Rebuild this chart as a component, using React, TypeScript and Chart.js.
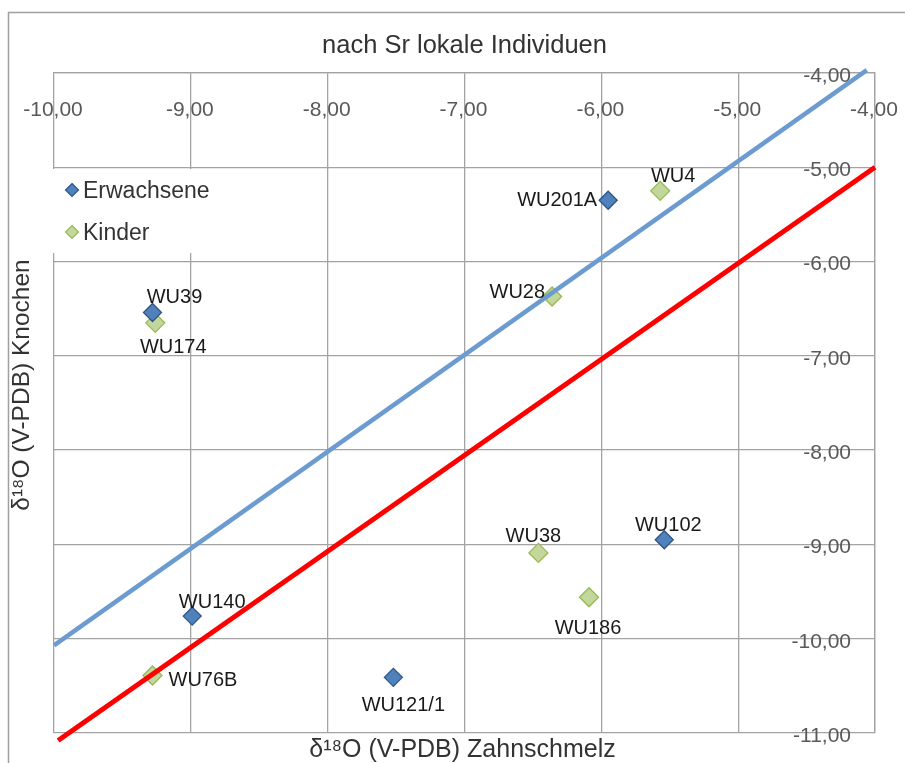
import React, { useEffect, useRef } from "react";
import { Chart, registerables } from "chart.js";

Chart.register(...registerables);

const TITLE = "nach Sr lokale Individuen";
const X_TITLE = "δ¹⁸O (V-PDB) Zahnschmelz";
const Y_TITLE = "δ¹⁸O (V-PDB) Knochen";

const adultNames = ["WU201A", "WU39", "WU140", "WU121/1", "WU102"];
const adultX = [-5.95, -9.28, -8.99, -7.52, -5.54];
const adultY = [-5.35, -6.54, -9.76, -10.41, -8.95];

const childNames = ["WU4", "WU28", "WU174", "WU38", "WU186", "WU76B"];
const childX = [-5.57, -6.36, -9.26, -6.46, -6.09, -9.28];
const childY = [-5.25, -6.37, -6.65, -9.09, -9.56, -10.39];

const blueLineX = [-10.0, -4.06];
const blueLineY = [-10.07, -3.97];
const redLineX = [-9.97, -4.0];
const redLineY = [-11.08, -5.0];

const X_MIN = -10, X_MAX = -4, Y_MIN = -11, Y_MAX = -4;

// label placement: [dx, dy, align]
const LABEL_PLACE: Record<string, [number, number, CanvasTextAlign]> = {
  WU201A: [-11, 0, "right"],
  WU39: [22, -15, "center"],
  WU140: [20, -14, "center"],
  "WU121/1": [10, 28, "center"],
  WU102: [4, -14, "center"],
  WU4: [13, -14, "center"],
  WU28: [-7, -4, "right"],
  WU174: [18, 25, "center"],
  WU38: [-5, -16, "center"],
  WU186: [-1, 31, "center"],
  WU76B: [16, 5, "left"],
};

const FONT = '"Liberation Sans", Arial, Helvetica, sans-serif';
const BLUE_FILL = "#4f81bd";
const BLUE_EDGE = "#2f5583";
const GREEN_FILL = "#c3d69b";
const GREEN_EDGE = "#98b954";
const GRID = "#a3a3a3";

const fmt = (v: number) => v.toFixed(2).replace(".", ",");

function diamond(ctx: CanvasRenderingContext2D, x: number, y: number, r: number, fill: string, edge: string) {
  ctx.beginPath();
  ctx.moveTo(x, y - r);
  ctx.lineTo(x + r, y);
  ctx.lineTo(x, y + r);
  ctx.lineTo(x - r, y);
  ctx.closePath();
  ctx.fillStyle = fill;
  ctx.fill();
  ctx.lineWidth = 1.2;
  ctx.strokeStyle = edge;
  ctx.stroke();
}

const overlay = {
  id: "overlay",
  beforeDatasetsDraw(chart: any) {
    const { ctx, chartArea } = chart;
    const xs = chart.scales.x;
    const ys = chart.scales.y;
    ctx.save();
    // frame
    ctx.strokeStyle = "#a0a0a0";
    ctx.lineWidth = 1.5;
    ctx.beginPath();
    ctx.moveTo(8.5, 763);
    ctx.lineTo(8.5, 12.5);
    ctx.lineTo(905, 12.5);
    ctx.stroke();

    // tick labels
    ctx.font = `21px ${FONT}`;
    ctx.fillStyle = "#595959";
    ctx.textBaseline = "middle";
    ctx.textAlign = "center";
    xs.ticks.forEach((t: any) => {
      ctx.fillText(fmt(t.value), xs.getPixelForValue(t.value) - 1, chartArea.top + 37);
    });
    ctx.textAlign = "right";
    ys.ticks.forEach((t: any) => {
      ctx.fillText(fmt(t.value), chartArea.right - 24, ys.getPixelForValue(t.value) + 3);
    });

    // title
    ctx.fillStyle = "#333333";
    ctx.textAlign = "center";
    ctx.font = `25.5px ${FONT}`;
    ctx.fillText(TITLE, (chartArea.left + chartArea.right) / 2, 46);

    // axis titles
    ctx.font = `25px ${FONT}`;
    ctx.fillText(X_TITLE, (chartArea.left + chartArea.right) / 2 - 2, 750);
    ctx.save();
    ctx.translate(22, 385);
    ctx.rotate(-Math.PI / 2);
    ctx.font = `24.5px ${FONT}`;
    ctx.fillText(Y_TITLE, 0, 0);
    ctx.restore();

    // legend
    ctx.fillStyle = "#ffffff";
    ctx.fillRect(chartArea.left - 2, 169, 168, 84);
    diamond(ctx, 72, 190, 6.5, BLUE_FILL, BLUE_EDGE);
    diamond(ctx, 72, 232, 6.5, GREEN_FILL, GREEN_EDGE);
    ctx.fillStyle = "#333333";
    ctx.textAlign = "left";
    ctx.font = `23px ${FONT}`;
    ctx.fillText("Erwachsene", 83, 192);
    ctx.fillText("Kinder", 83, 234);
    ctx.restore();
  },
  afterDatasetsDraw(chart: any) {
    const { ctx } = chart;
    ctx.save();
    ctx.font = `20px ${FONT}`;
    ctx.fillStyle = "#1a1a1a";
    ctx.textBaseline = "middle";
    chart.data.datasets.forEach((ds: any, di: number) => {
      if (!ds.names) return;
      const meta = chart.getDatasetMeta(di);
      meta.data.forEach((el: any, i: number) => {
        const name = ds.names[i];
        const p = LABEL_PLACE[name] || [0, -15, "center"];
        ctx.textAlign = p[2];
        ctx.fillText(name, el.x + p[0], el.y + p[1]);
      });
    });
    ctx.restore();
  },
};

export default function App() {
  const ref = useRef<HTMLCanvasElement>(null);
  useEffect(() => {
    if (!ref.current) return;
    const chart = new Chart(ref.current, {
      type: "scatter",
      data: {
        datasets: [
          {
            label: "Linie blau",
            type: "line",
            data: blueLineX.map((x, i) => ({ x, y: blueLineY[i] })),
            borderColor: "#6b9bd1",
            borderWidth: 4.5,
            pointRadius: 0,
            showLine: true,
            clip: false,
            order: 0,
          } as any,
          {
            label: "Linie rot",
            type: "line",
            data: redLineX.map((x, i) => ({ x, y: redLineY[i] })),
            borderColor: "#ff0000",
            borderWidth: 5,
            pointRadius: 0,
            showLine: true,
            clip: false,
            order: 0,
          } as any,
          {
            label: "Erwachsene",
            names: adultNames,
            data: adultX.map((x, i) => ({ x, y: adultY[i] })),
            pointStyle: "rectRot",
            pointRadius: 9,
            pointBackgroundColor: BLUE_FILL,
            pointBorderColor: BLUE_EDGE,
            pointBorderWidth: 1.3,
            order: 1,
          } as any,
          {
            label: "Kinder",
            names: childNames,
            data: childX.map((x, i) => ({ x, y: childY[i] })),
            pointStyle: "rectRot",
            pointRadius: 9.5,
            pointBackgroundColor: GREEN_FILL,
            pointBorderColor: GREEN_EDGE,
            pointBorderWidth: 1.3,
            order: 1,
          } as any,
        ],
      },
      options: {
        animation: false,
        responsive: false,
        layout: { padding: { left: 54, top: 73, right: 30, bottom: 30 } },
        plugins: { legend: { display: false }, tooltip: { enabled: false }, title: { display: false } },
        scales: {
          x: {
            type: "linear",
            position: "top",
            min: X_MIN,
            max: X_MAX,
            ticks: { stepSize: 1, display: false },
            grid: { color: GRID, lineWidth: 1.3, drawTicks: false },
            border: { color: GRID, width: 1.3 },
            title: { display: false },
          },
          y: {
            type: "linear",
            position: "right",
            min: Y_MIN,
            max: Y_MAX,
            ticks: { stepSize: 1, display: false },
            grid: { color: GRID, lineWidth: 1.3, drawTicks: false },
            border: { color: GRID, width: 1.3 },
            title: { display: false },
          },
        },
      },
      plugins: [overlay],
    });
    return () => chart.destroy();
  }, []);
  return (
    <div style={{ position: "fixed", left: 0, top: 0, width: 905, height: 763, background: "#fff" }}>
      <canvas ref={ref} width={905} height={763} />
    </div>
  );
}
